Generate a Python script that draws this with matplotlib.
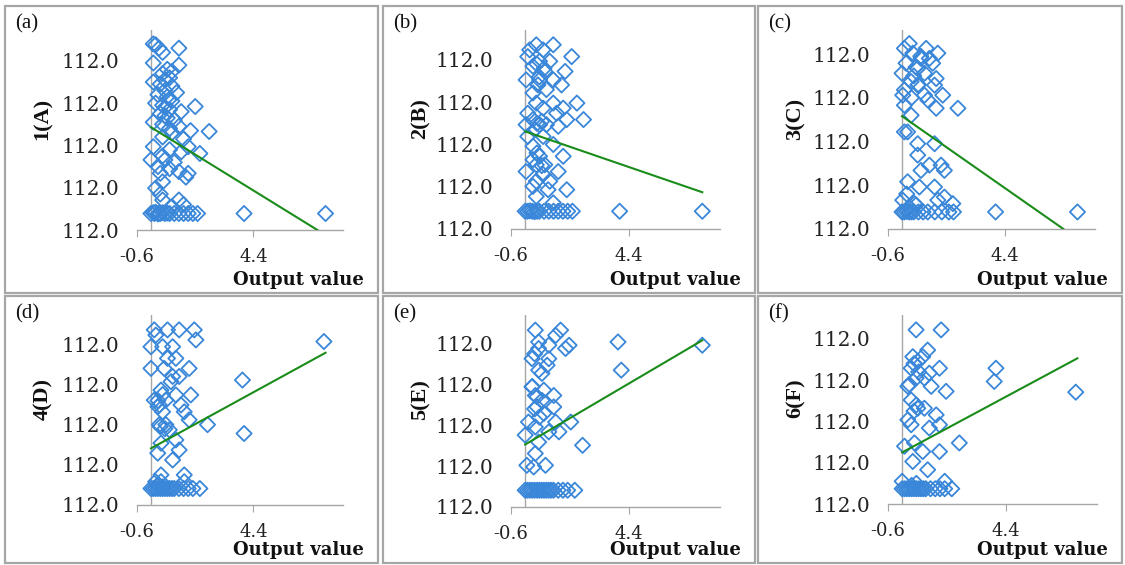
import matplotlib
matplotlib.use("Agg")
import matplotlib.pyplot as plt
from matplotlib.patches import Rectangle

panel_tags = ["(a)", "(b)", "(c)", "(d)", "(e)", "(f)"]
y_names = ["1(A)", "2(B)", "3(C)", "4(D)", "5(E)", "6(F)"]
x_ticks = [-0.6, 4.4]
x_ticklabels = ["-0.6", "4.4"]
y_ticks = [0, 1, 2, 3, 4]
y_ticklabels = ["112.0", "112.0", "112.0", "112.0", "112.0"]

# panel (a)
a_x = [0.1, 0.2, 0.35, 1.2, 0.5,
       0.1, 1.2, 0.7, 0.9, 0.5, 0.8, 0.6,
       0.1, 0.4, 0.9, 0.6, 1.1, 0.3, 0.7, 0.8,
       0.9, 0.2, 0.5, 1.9, 0.8, 1.3, 0.4, 0.6,
       0.7, 1.0, 0.1, 0.5, 1.2, 0.8, 0.6,
       2.5, 1.7, 0.9, 0.5, 1.4,
       0.1, 1.6, 0.8, 2.1, 1.3, 0.5,
       0.0, 0.6, 1.0, 0.3, 0.8, 0.4, 1.2, 1.6, 1.5, 0.5,
       0.2, 0.4, 0.5, 1.2, 1.4, 0.9,
       0.0, 0.1, 0.15, 0.2, 0.3, 0.35, 0.4, 0.5, 0.6, 0.7, 0.8, 1.0, 1.2, 1.4, 1.6, 1.8, 2.0, 4.0, 7.5]
a_y = [4.4, 4.38, 4.3, 4.3, 4.2,
       3.95, 3.9, 3.8, 3.75, 3.7, 3.6, 3.55,
       3.5, 3.45, 3.4, 3.3, 3.25, 3.2, 3.15, 3.1,
       3.05, 3.0, 2.95, 2.92, 2.85, 2.8, 2.75, 2.7,
       2.65, 2.6, 2.55, 2.5, 2.45, 2.4, 2.9,
       2.33, 2.35, 2.3, 2.2, 2.15,
       1.97, 1.97, 1.9, 1.81, 1.85, 1.75,
       1.66, 1.66, 1.6, 1.5, 1.45, 1.34, 1.38, 1.34, 1.25, 1.14,
       0.99, 0.85, 0.71, 0.71, 0.6, 0.55,
       0.39, 0.41, 0.39, 0.42, 0.38, 0.4, 0.39, 0.41, 0.39, 0.4, 0.39, 0.39, 0.39, 0.39, 0.39, 0.39, 0.39, 0.39, 0.39]
a_trend_x = [0.0, 7.15]
a_trend_y = [2.43, 0.0]

# panel (b)
b_x = [0.47, 1.19, 0.19, 0.76, 1.97, 0.11, 0.61, 1.04, 0.33, 1.69, 0.83,
       0.04, 0.61, 1.19, 1.54, 0.54, 0.9, 0.33, 0.47, 1.19, 2.19, 0.76, 1.61,
       0.11, 1.33, 2.47, 0.33, 1.76, 0.04, 0.61, 0.9, 1.4, 0.11, 0.76, 1.19,
       0.33, 1.61, 0.61, 0.33, 0.47, 0.83, 0.04, 1.4, 0.76, 0.47, 1.04, 0.33,
       0.97, 1.76, 0.47, 1.19,
       0.5, 0.7, 0.4, 0.6, 0.8, 0.5, 0.7, 0.5,
       0.0, 0.1, 0.2, 0.3, 0.4, 0.5, 0.6, 0.8, 1.0, 1.2, 1.4, 1.6, 1.8, 2.0, 4.0, 7.5]
b_y = [4.36, 4.36, 4.24, 4.24, 4.08, 4.08, 3.97, 3.97, 3.85, 3.73, 3.73,
       3.53, 3.53, 3.53, 3.41, 3.41, 3.3, 3.22, 2.98, 2.98, 2.98, 2.86, 2.86,
       2.74, 2.74, 2.59, 2.59, 2.59, 2.47, 2.47, 2.47, 2.43, 2.19, 2.19, 2.0,
       1.96, 1.72, 1.72, 1.64, 1.52, 1.52, 1.36, 1.36, 1.29, 1.13, 1.13, 1.01,
       0.93, 0.93, 0.77, 0.62,
       2.5, 2.55, 2.35, 3.6, 3.8, 3.9, 1.5, 1.8,
       0.42, 0.42, 0.43, 0.42, 0.41, 0.42, 0.42, 0.42, 0.42, 0.42, 0.42, 0.42, 0.42, 0.42, 0.42, 0.42]
b_trend_x = [0.0, 7.5]
b_trend_y = [2.31, 0.87]

# panel (c)
c_x = [0.31, 1.03, 0.1, 1.53, 0.46, 0.81, 1.17, 0.17, 1.31, 0.67, 0.0, 0.96,
       1.46, 0.39, 1.39, 0.67, 0.1, 0.03, 1.74, 0.96, 1.1, 0.1, 1.46, 2.39,
       0.39, 0.1, 0.24, 0.67, 1.39, 0.67, 1.17, 1.67, 1.81, 0.81, 0.24, 0.74,
       1.39, 1.81, 0.03, 1.53, 0.53, 2.17,
       0.5, 0.7, 0.4, 0.6, 0.8, 0.3, 0.6, 0.2,
       0.0, 0.1, 0.2, 0.3, 0.4, 0.5, 0.7, 0.9, 1.1, 1.4, 1.7, 2.0, 2.2, 4.0, 7.5]
c_y = [4.24, 4.13, 4.13, 4.02, 4.02, 3.9, 3.9, 3.79, 3.79, 3.67, 3.56, 3.56,
       3.44, 3.37, 3.29, 3.29, 3.18, 3.06, 3.06, 3.06, 2.95, 2.83, 2.76, 2.76,
       2.6, 2.22, 2.22, 1.95, 1.95, 1.69, 1.46, 1.46, 1.34, 1.34, 1.08, 0.96,
       0.96, 0.73, 0.66, 0.66, 0.58, 0.58,
       3.5, 3.3, 3.0, 3.7, 3.95, 0.5, 0.55, 0.8,
       0.39, 0.39, 0.4, 0.39, 0.39, 0.39, 0.39, 0.39, 0.39, 0.39, 0.39, 0.39, 0.39, 0.39, 0.39]
c_trend_x = [0.0, 6.9]
c_trend_y = [2.58, 0.0]

# panel (d)
d_x = [0.71, 1.21, 0.14, 1.86, 0.21, 1.93, 7.43, 0.0, 0.5, 0.93, 0.71, 1.07,
       0.0, 0.57, 1.64, 0.93, 1.21, 3.93, 0.86, 0.43, 1.07, 1.71, 0.14, 0.64,
       0.36, 1.29, 0.5, 1.43, 1.64, 0.36, 0.64, 2.43, 0.79, 4.0, 1.07, 0.43,
       1.21, 0.29, 0.93, 0.43, 1.43, 0.43, 1.43, 0.2,
       0.3, 0.5, 0.4, 0.6, 0.3, 0.5, 0.3,
       0.0, 0.1, 0.2, 0.3, 0.4, 0.5, 0.6, 0.7, 0.8, 0.9, 1.0, 1.2, 1.4, 1.6, 1.8, 2.1]
d_y = [4.36, 4.36, 4.36, 4.36, 4.23, 4.11, 4.07, 3.94, 3.94, 3.94, 3.65, 3.65,
       3.4, 3.4, 3.4, 3.2, 3.2, 3.11, 3.07, 2.86, 2.74, 2.74, 2.61, 2.61,
       2.49, 2.49, 2.32, 2.32, 2.12, 2.0, 2.0, 2.0, 1.87, 1.78, 1.62, 1.54,
       1.37, 1.29, 1.12, 0.75, 0.75, 0.58, 0.58, 0.58,
       2.6, 2.75, 1.95, 1.9, 2.45, 0.45, 0.48,
       0.41, 0.41, 0.41, 0.41, 0.41, 0.41, 0.41, 0.41, 0.41, 0.41, 0.41, 0.41, 0.41, 0.41, 0.41, 0.41]
d_trend_x = [0.0, 7.5]
d_trend_y = [1.41, 3.79]

# panel (e)
e_x = [0.43, 1.5, 1.29, 3.93, 0.57, 7.5, 1.86, 1.0, 1.71, 0.57, 0.29, 1.0,
       0.93, 4.07, 0.57, 0.71, 0.29, 0.79, 1.21, 0.43, 0.71, 1.21, 0.5, 0.79,
       0.14, 1.29, 1.93, 0.43, 1.0, 1.43, 0.0, 0.57, 2.43, 0.43, 0.07, 0.86, 0.36,
       0.3, 0.5, 0.4, 0.6, 0.4,
       0.0, 0.1, 0.2, 0.3, 0.4, 0.5, 0.6, 0.7, 0.8, 0.9, 1.0, 1.1, 1.2, 1.4, 1.6, 1.8, 2.1]
e_y = [4.33, 4.33, 4.2, 4.04, 4.04, 3.96, 3.96, 3.96, 3.88, 3.88, 3.63, 3.63,
       3.47, 3.35, 3.35, 3.27, 2.94, 2.86, 2.73, 2.73, 2.61, 2.45, 2.45, 2.29,
       2.08, 2.08, 2.08, 1.96, 1.84, 1.84, 1.76, 1.59, 1.51, 1.31, 1.02, 1.02, 0.98,
       2.95, 2.7, 2.4, 2.2, 3.75,
       0.41, 0.41, 0.41, 0.41, 0.41, 0.41, 0.41, 0.41, 0.41, 0.41, 0.41, 0.41, 0.41, 0.41, 0.41, 0.41, 0.41]
e_trend_x = [0.0, 7.5]
e_trend_y = [1.53, 4.08]

# panel (f)
f_x = [0.59, 1.65, 1.08, 0.45, 0.87, 0.66, 0.38, 1.58, 3.97, 1.15, 0.59, 0.94,
       3.9, 0.24, 1.23, 1.86, 7.35, 0.38, 0.66, 0.94, 1.44, 0.24, 0.38, 1.58,
       1.15, 2.42, 0.52, 0.1, 0.87, 1.58, 0.45, 1.08, 1.8, 0.0,
       0.5, 0.7, 0.3, 0.5, 0.6, 0.4, 0.6,
       0.0, 0.1, 0.2, 0.3, 0.4, 0.5, 0.6, 0.7, 0.8, 0.9, 1.0, 1.2, 1.4, 1.6, 1.8, 2.1]
f_y = [4.22, 4.22, 3.73, 3.57, 3.57, 3.45, 3.29, 3.29, 3.29, 3.17, 3.05, 3.05,
       2.97, 2.85, 2.85, 2.73, 2.71, 2.52, 2.32, 2.32, 2.16, 2.04, 1.92, 1.92,
       1.84, 1.48, 1.48, 1.4, 1.27, 1.27, 1.03, 0.83, 0.55, 0.55,
       3.4, 3.2, 2.9, 2.25, 2.4, 0.45, 0.5,
       0.37, 0.37, 0.37, 0.37, 0.37, 0.37, 0.37, 0.37, 0.37, 0.37, 0.37, 0.37, 0.37, 0.37, 0.37, 0.37]
f_trend_x = [0.0, 7.42]
f_trend_y = [1.25, 3.53]

xs = [a_x, b_x, c_x, d_x, e_x, f_x]
ys = [a_y, b_y, c_y, d_y, e_y, f_y]
trend_xs = [a_trend_x, b_trend_x, c_trend_x, d_trend_x, e_trend_x, f_trend_x]
trend_ys = [a_trend_y, b_trend_y, c_trend_y, d_trend_y, e_trend_y, f_trend_y]

# layout in pixels (figure is 1125 x 565)
W, H = 1125, 565
boxes = [(5, 6, 378, 293), (383, 6, 755, 293), (758, 6, 1122, 293),
         (5, 296, 378, 563), (383, 296, 755, 563), (758, 296, 1122, 563)]
axes_px = [(137, 30, 343, 230), (511, 30, 720, 229), (888, 30, 1095, 229),
           (137, 315, 343, 505), (511, 315, 720, 507), (888, 315, 1097, 504)]
y_tops = [4.73, 4.71, 4.55, 4.73, 4.7, 4.58]

blue = "#3a87d9"
green = "#1a8c1a"
axis_gray = "#a6a6a6"

fig = plt.figure(figsize=(W / 100, H / 100), dpi=100)

for i in range(6):
    bl, bt, br, bb = boxes[i]
    fig.add_artist(Rectangle((bl / W, 1 - bb / H), (br - bl) / W, (bb - bt) / H,
                             transform=fig.transFigure, fill=False,
                             edgecolor=axis_gray, linewidth=1.6))

    l, t, r, b = axes_px[i]
    ax = fig.add_axes([l / W, 1 - b / H, (r - l) / W, (b - t) / H])
    ax.set_facecolor("none")
    ax.set_xlim(-0.6, 8.25)
    ax.set_ylim(0, y_tops[i])

    ax.scatter(xs[i], ys[i], marker="D", s=60, facecolors="none",
               edgecolors=blue, linewidths=1.3, zorder=3)
    ax.plot(trend_xs[i], trend_ys[i], color=green, linewidth=1.5, zorder=4)

    # vertical axis crosses at x = 0
    ax.axvline(0, color=axis_gray, linewidth=1.0, zorder=1)
    for s in ["top", "right", "left"]:
        ax.spines[s].set_visible(False)
    ax.spines["bottom"].set_color(axis_gray)
    ax.spines["bottom"].set_linewidth(1.0)

    ax.set_xticks(x_ticks)
    ax.set_xticklabels(x_ticklabels, fontfamily="DejaVu Serif", fontsize=13)
    ax.set_yticks(y_ticks)
    ax.set_yticklabels(y_ticklabels, fontfamily="DejaVu Serif", fontsize=14.5)
    ax.tick_params(axis="x", direction="out", length=5, color=axis_gray,
                   pad=8, labelcolor="#222222")
    ax.tick_params(axis="y", length=0, pad=13, labelcolor="#222222")

    fig.text((bl + 10) / W, 1 - (bt + 8) / H, panel_tags[i], ha="left", va="top",
             fontfamily="Liberation Serif", fontsize=15, color="#111111")
    fig.text((bl + 38) / W, 1 - ((t + b) / 2 - 11) / H, y_names[i], rotation=90,
             ha="center", va="center", fontfamily="Liberation Serif",
             fontweight="bold", fontsize=16, color="#111111")
    fig.text((br - 14) / W, 1 - (bb - 8) / H, "Output value", ha="right",
             va="baseline", fontfamily="DejaVu Serif", fontweight="bold",
             fontsize=13, color="#111111")

fig.savefig("out.png", dpi=100)
